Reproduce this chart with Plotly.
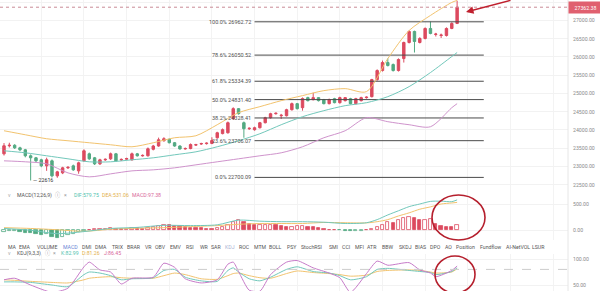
import plotly.graph_objects as go

# ---------------- data ----------------
opens = [23346, 23566, 23580, 23510, 23456, 23292, 23237, 23182, 23017, 23154,
         22742, 22824, 22962, 23017, 22879, 23154, 23346, 23237, 23072, 23182,
         23209, 23346, 23180, 23200, 23182, 23346, 23290, 23292, 23470, 23560,
         23704, 23740, 23650, 23560, 23480, 23490, 23585, 23615, 23625, 23630,
         23786, 23900, 23923, 24308, 24583, 24198, 24033, 24006, 24061, 24198,
         24335, 24445, 24390, 24390, 24555, 24720, 24610, 24885, 24830, 24885,
         24830, 24720, 24857, 24747, 24802, 24857, 24720, 24802, 24885, 24912,
         25379, 25627, 25846, 25791, 25627, 25956, 26396, 26698, 26396, 26506,
         26780, 26615, 26588, 26588, 26780, 26918]
closes = [23566, 23580, 23510, 23456, 23292, 23237, 23154, 23017, 23182, 22742,
          22852, 22962, 22975, 22907, 23099, 23429, 23209, 23072, 23182, 23195,
          23346, 23154, 23192, 23215, 23346, 23292, 23302, 23484, 23560, 23731,
          23760, 23650, 23560, 23480, 23492, 23600, 23597, 23627, 23637, 23710,
          23923, 24006, 24198, 24583, 24445, 24033, 24045, 24061, 24198, 24335,
          24445, 24457, 24402, 24555, 24720, 24583, 24860, 24802, 24885, 24802,
          24720, 24830, 24747, 24885, 24885, 24720, 24857, 24885, 24897, 25379,
          25627, 25846, 25764, 25627, 25929, 26396, 26698, 26423, 26506, 26780,
          26643, 26627, 26600, 26780, 26918, 27362.38]
highs = [23640, 23650, 23610, 23540, 23480, 23330, 23260, 23210, 23240, 23190,
         22880, 22990, 23010, 23050, 23130, 23470, 23380, 23260, 23210, 23220,
         23380, 23370, 23220, 23240, 23380, 23370, 23330, 23520, 23590, 23790,
         23800, 23770, 23670, 23580, 23520, 23630, 23620, 23650, 23660, 23800,
         23950, 24040, 24230, 24620, 24600, 24230, 24070, 24090, 24220, 24360,
         24470, 24480, 24440, 24580, 24750, 24740, 24890, 24910, 25020, 24900,
         24850, 24860, 24880, 24910, 24900, 24880, 24880, 24910, 24920, 25400,
         25660, 25900, 25960, 25820, 25960, 26420, 26730, 26720, 26540, 26810,
         26970, 26660, 26640, 26810, 26950, 27540]
lows = [23300, 23520, 23480, 23420, 23250, 22616, 23120, 22980, 22880, 22700,
        22690, 22790, 22930, 22880, 22800, 23130, 23180, 23040, 23040, 23150,
        23180, 23130, 23150, 23180, 23160, 23270, 23270, 23270, 23440, 23540,
        23680, 23630, 23540, 23460, 23460, 23470, 23560, 23590, 23600, 23610,
        23760, 23880, 23900, 24280, 24420, 23786, 24000, 23980, 24040, 24180,
        24310, 24420, 24300, 24370, 24530, 24560, 24528, 24780, 24810, 24780,
        24700, 24700, 24730, 24720, 24780, 24700, 24700, 24780, 24860, 24890,
        25350, 25600, 25740, 25600, 25600, 25846, 26370, 26121, 26370, 26480,
        26620, 26560, 26520, 26560, 26760, 26900]
idx = list(range(len(closes)))
last_price = 27362.38
low_mark = 22616
low_mark_idx = 5

boll_idx = [0, 4, 8, 12, 16, 20, 24, 28, 32, 36, 40, 44, 48, 52, 56, 60, 64, 68, 72, 76, 80, 84, 85]
boll_up = [23978, 23868, 23759, 23704, 23649, 23594, 23539, 23649, 23786, 23841, 24143, 24473,
           24638, 24802, 24940, 25077, 25132, 25050, 25956, 26725, 27137, 27494, 27549]
boll_mid = [23429, 23374, 23292, 23209, 23127, 23127, 23182, 23237, 23319, 23401, 23539, 23704,
            23896, 24143, 24363, 24528, 24665, 24747, 24912, 25187, 25572, 26011, 26121]
boll_low = [23154, 23127, 23072, 22824, 22715, 22797, 22879, 22907, 22962, 23044, 23127, 23209,
            23292, 23374, 23539, 23786, 23978, 24335, 24226, 24143, 24088, 24610, 24720]

fib_pct = ["100.0%", "78.6%", "61.8%", "50.0%", "38.2%", "23.6%", "0.0%"]
fib_levels = [26962.72, 26050.52, 25334.39, 24831.40, 24328.41, 23706.07, 22700.09]
fib_start, fib_end = 47, 90

macd_hist = [-30, -25, -20, -35, -50, -65, -75, -90, -85, -140,
             -155, -130, -100, -70, -45, -12, 5, 15, 22, 28,
             32, 25, 20, 28, 35, 30, 25, 40, 55, 80,
             100, 95, 85, 70, 55, 45, 35, 30, 25, 20,
             35, 60, 90, 150, 190, 150, 115, 90, 95, 100,
             105, 90, 75, 60, 65, 72, 75, 60, 50, 35,
             20, 10, 5, -5, -15, -25, -20, -10, 5, 15,
             50, 90, 150, 130, 190, 230, 250, 230, 190, 200,
             210, 120, 80, 60, 50, 97.38]
macd_idx = [0, 5, 10, 15, 20, 25, 30, 35, 40, 44, 48, 52, 56, 60, 64, 68, 70, 72, 74, 76, 78, 80, 82, 84, 85]
dif = [30, -5, -70, -30, 30, 50, 90, 85, 100, 190, 170, 160, 160, 150, 125, 140,
       200, 290, 370, 450, 500, 550, 555, 545, 579.75]
dea = [45, 30, 5, -25, 15, 35, 45, 65, 85, 110, 125, 125, 125, 145, 140, 137,
       160, 200, 270, 330, 400, 445, 500, 520, 531.06]

kdj_idx = [0, 2, 5, 9, 12, 15, 16, 18, 20, 22, 24, 28, 30, 32, 34, 37, 40, 42, 43,
           44, 46, 48, 50, 53, 55, 58, 61, 63, 65, 68, 70, 72, 76, 78, 80, 81, 84, 85]
kdj_j = [60, 63, 50, 36, 44, 85, 94, 79, 75, 52, 63, 65, 92, 84, 62, 54, 60, 90, 94,
         76, 40, 38, 70, 94, 97, 83, 73, 64, 36, 72, 96, 88, 93, 79, 73, 66, 78, 86.45]
kdj_k = [56, 56, 55, 50, 47, 70, 75, 73, 68, 60, 62, 64, 78, 80, 65, 58, 57, 78, 83,
         75, 62, 58, 65, 80, 85, 76, 73, 68, 60, 66, 80, 82, 78, 76, 74, 70, 76, 82.99]
kdj_d = [60, 59, 57, 55, 54, 60, 63, 65, 66, 64, 63, 63, 68, 73, 70, 62, 61, 68, 72,
         73, 68, 64, 63, 72, 77, 74, 72, 70, 67, 69, 76, 78, 79, 78, 75, 73, 75, 81.26]

price_ticks = [22500, 23000, 23500, 24000, 24500, 25000, 25500, 26000, 26500, 27000, 27500]
macd_ticks = [0, 500]
kdj_ticks = [50, 100]

tab_words = ["MA", "EMA", "VOLUME", "MACD", "DMI", "DMA", "TRIX", "BRAR", "VR", "OBV", "EMV",
             "RSI", "WR", "SAR", "KDJ", "ROC", "MTM", "BOLL", "PSY", "StochRSI", "SMI", "CCI",
             "MFI", "ATR", "BBW", "SKDJ", "BIAS", "DPO", "AO", "Position", "Fundflow",
             "AI-NetVOL", "LSUR"]

# ---------------- styling / layout helpers ----------------
RED = "#dc4a5f"
GREEN = "#52a982"
ORANGE = "#f2c36e"
TEAL = "#72c8bb"
PINK = "#cf93cc"
PURPLE = "#c77bc9"
FONT = "Roboto"
W, H = 600, 291
RM = 32
PW = W - RM


def px(x):
    return x / PW


def py(y):
    return 1 - y / H


tab_x = [6, 17, 35, 61, 80, 93, 110, 125, 143, 153, 168, 184, 198, 209, 223, 237, 252,
         267, 285, 299, 327, 340, 353, 365, 380, 397, 413, 428, 443, 454, 478, 504, 530]
tab_color = {"MACD": "#6b86d6", "KDJ": "#aab4d4"}

fig = go.Figure()

# Fibonacci levels
for lv in fib_levels:
    fig.add_trace(go.Scatter(x=[fib_start, fib_end], y=[lv, lv], mode="lines",
                             line=dict(color="#4a4a4a", width=1), xaxis="x", yaxis="y",
                             hoverinfo="skip"))

# Bollinger bands
for ys, col in [(boll_up, ORANGE), (boll_mid, TEAL), (boll_low, PINK)]:
    fig.add_trace(go.Scatter(x=boll_idx, y=ys, mode="lines",
                             line=dict(color=col, width=1, shape="spline", smoothing=0.8),
                             xaxis="x", yaxis="y", hoverinfo="skip"))

# Candles
fig.add_trace(go.Candlestick(
    x=idx, open=opens, high=highs, low=lows, close=closes,
    increasing=dict(line=dict(color=RED, width=1), fillcolor=RED),
    decreasing=dict(line=dict(color=GREEN, width=1), fillcolor=GREEN),
    whiskerwidth=0, xaxis="x", yaxis="y"))

# MACD histogram (hollow when rising)
fills, edges = [], []
for i, v in enumerate(macd_hist):
    c = RED if v >= 0 else GREEN
    rising = i == 0 or v > macd_hist[i - 1]
    fills.append("white" if rising else c)
    edges.append(c)
fig.add_trace(go.Bar(x=idx, y=macd_hist, width=0.62,
                     marker=dict(color=fills, line=dict(color=edges, width=0.8)),
                     xaxis="x2", yaxis="y2", hoverinfo="skip"))
fig.add_trace(go.Scatter(x=macd_idx, y=dea, mode="lines",
                         line=dict(color=ORANGE, width=1, shape="spline", smoothing=0.8),
                         xaxis="x2", yaxis="y2", hoverinfo="skip"))
fig.add_trace(go.Scatter(x=macd_idx, y=dif, mode="lines",
                         line=dict(color=TEAL, width=1, shape="spline", smoothing=0.8),
                         xaxis="x2", yaxis="y2", hoverinfo="skip"))

# KDJ
for ys, col in [(kdj_d, ORANGE), (kdj_k, TEAL), (kdj_j, PURPLE)]:
    fig.add_trace(go.Scatter(x=kdj_idx, y=ys, mode="lines",
                             line=dict(color=col, width=1, shape="spline", smoothing=0.6),
                             xaxis="x3", yaxis="y3", hoverinfo="skip"))

grid_vals = list(range(7, 106, 8))
xcommon = dict(range=[-0.75, 105.8], showticklabels=False, tickvals=grid_vals,
               showgrid=True, gridcolor="#f3f3f3", gridwidth=1, zeroline=False,
               showline=False, ticks="", fixedrange=True)
ytick_font = dict(family=FONT, size=5.2, color="#8a8a8a")
ycommon = dict(side="right", showgrid=True, gridcolor="#f2f2f2", zeroline=False,
               showline=False, ticks="", tickfont=ytick_font, automargin=False,
               fixedrange=True, ticklabelstandoff=4)

dom_main = [py(192), 1]
dom_macd = [py(240), py(192)]
dom_kdj = [0, py(254)]

annotations = []
# fib labels
for pct, lv in zip(fib_pct, fib_levels):
    annotations.append(dict(x=fib_start, y=lv, xref="x", yref="y", xanchor="right",
                            yanchor="middle", xshift=-2, showarrow=False,
                            text=f"{pct} {lv:.2f}",
                            font=dict(family=FONT, size=5.5, color="#505050")))
# low marker
annotations.append(dict(x=low_mark_idx, y=low_mark, xref="x", yref="y", xanchor="left",
                        yanchor="middle", xshift=0, showarrow=False,
                        text=f"— {low_mark}",
                        font=dict(family=FONT, size=5.3, color="#333333")))
# last price box
annotations.append(dict(x=1, y=last_price, xref="paper", yref="y", xanchor="left",
                        yanchor="middle", showarrow=False, text=f"{last_price:.2f}",
                        bgcolor="#e0606f", width=31, height=9, align="center",
                        font=dict(family=FONT, size=5.2, color="white")))


def legend(items, y):
    for x, txt, col, fam in items:
        annotations.append(dict(x=px(x), y=py(y), xref="paper", yref="paper",
                                xanchor="left", yanchor="middle", showarrow=False,
                                text=txt, font=dict(family=fam, size=5.2, color=col)))


CJK = "Noto Sans CJK SC"
legend([(6, "v", "#aaaaaa", FONT), (15, "MACD(12,26,9)", "#555555", FONT),
        (53, "ⓘ", "#999999", CJK), (62, "×", "#999999", FONT),
        (72, f"DIF:{dif[-1]:.2f}", "#4fbfae", FONT),
        (100, f"DEA:{dea[-1]:.2f}", "#e3b04c", FONT),
        (130, f"MACD:{macd_hist[-1]:.2f}", "#d8679a", FONT)],
       195.5)
legend([(6, "v", "#aaaaaa", FONT), (15, "KDJ(9,3,3)", "#555555", FONT),
        (43, "ⓘ", "#999999", CJK), (51, "×", "#999999", FONT),
        (59, f"K:{kdj_k[-1]:.2f}", "#4fbfae", FONT),
        (80, f"D:{kdj_d[-1]:.2f}", "#e3b04c", FONT),
        (102, f"J:{kdj_j[-1]:.2f}", "#d8679a", FONT)],
       253.3)

for w, x in zip(tab_words, tab_x):
    annotations.append(dict(x=px(x), y=py(246.5), xref="paper", yref="paper",
                            xanchor="left", yanchor="middle", showarrow=False, text=w,
                            font=dict(family=FONT, size=5.2, color=tab_color.get(w, "#555555"))))

# red arrow
annotations.append(dict(x=px(466), y=py(12), xref="paper", yref="paper", ax=46, ay=-15,
                        axref="pixel", ayref="pixel", showarrow=True, arrowhead=2,
                        arrowsize=1, arrowwidth=1.5, arrowcolor="#c0202e", text=""))

shapes = [
    dict(type="line", xref="paper", yref="y", x0=0, x1=1, y0=last_price, y1=last_price,
         line=dict(color="#c98c96", width=1, dash="dot")),
    dict(type="line", xref="paper", yref="y3", x0=0, x1=1, y0=80, y1=80,
         line=dict(color="#cccccc", width=1, dash="dash")),
    dict(type="line", xref="paper", yref="paper", x0=1, x1=1, y0=0, y1=1,
         line=dict(color="#e6e6e6", width=1)),
    dict(type="circle", xref="paper", yref="paper", x0=px(432), x1=px(485),
         y0=py(240), y1=py(195), line=dict(color="#b51f2d", width=1.6)),
    dict(type="circle", xref="paper", yref="paper", x0=px(435), x1=px(475),
         y0=py(293), y1=py(256), line=dict(color="#b51f2d", width=1.6)),
]

fig.update_layout(
    width=W, height=H, margin=dict(l=0, r=RM, t=0, b=0),
    paper_bgcolor="white", plot_bgcolor="white", showlegend=False,
    boxgap=0.35, bargap=0, hovermode=False,
    font=dict(family=FONT, size=6, color="#555555"),
    xaxis=dict(anchor="y", rangeslider=dict(visible=False), **xcommon),
    xaxis2=dict(anchor="y2", matches="x", **xcommon),
    xaxis3=dict(anchor="y3", matches="x", **xcommon),
    yaxis=dict(domain=dom_main, anchor="x", range=[22300, 27560], tickvals=price_ticks,
               ticktext=[f"{v:.2f}" for v in price_ticks], **ycommon),
    yaxis2=dict(domain=dom_macd, anchor="x2", range=[-192, 731], tickvals=macd_ticks,
                ticktext=[f"{v:.2f}" for v in macd_ticks], **ycommon),
    yaxis3=dict(domain=dom_kdj, anchor="x3", range=[38.5, 109.6], tickvals=kdj_ticks,
                ticktext=[f"{v:.2f}" for v in kdj_ticks], **ycommon),
    annotations=annotations, shapes=shapes,
)

fig.write_html("out.html")
